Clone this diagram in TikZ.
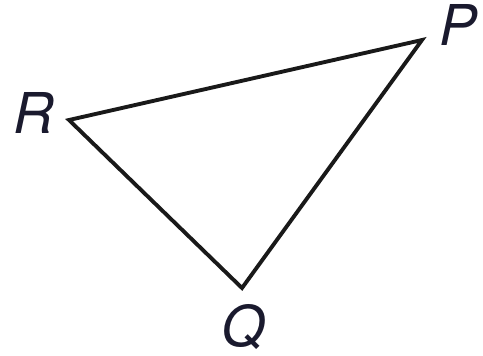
\documentclass[tikz,border=0pt]{standalone}
\usepackage{fontspec}
\setmainfont{TeX Gyre Heros}
\usetikzlibrary{calc}
\definecolor{colorlabel}{HTML}{1A1A2E}

\begin{document}
\begin{tikzpicture}[x=0.01cm, y=-0.01cm,
    lbl/.style={text=colorlabel, font=\fontsize{16}{16}\selectfont\itshape, inner sep=0pt}]
    \useasboundingbox (0,0) rectangle (483,355);
    \coordinate (R) at (69,120);
    \coordinate (P) at (422,40);
    \coordinate (Q) at (242,288);
    \draw[line width=1.1pt, line join=miter, color=black!90] (R) -- (P) -- (Q) -- cycle;
    \node[lbl] (lR) at (34,113) {R};
    \node[lbl] (lP) at (458,25) {P};
    \node[lbl] (lQ) at (243,327) {Q};
\end{tikzpicture}
\end{document}
